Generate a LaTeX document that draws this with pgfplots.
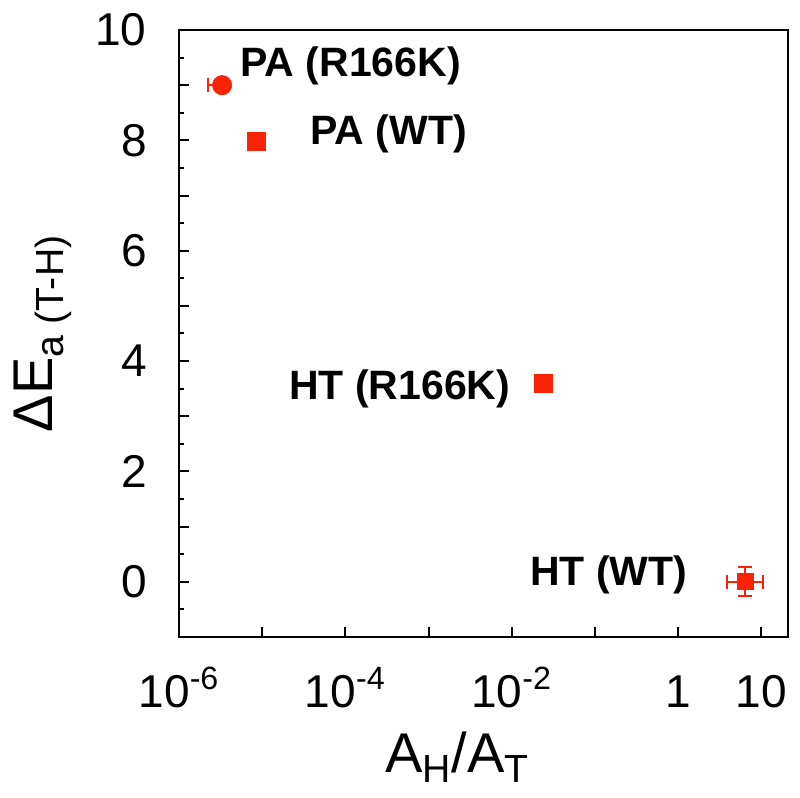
\documentclass[border=0pt]{standalone}
\usepackage{fontspec}
\setmainfont{Liberation Sans}
\usepackage{pgfplots}
\pgfplotsset{compat=1.18}
\definecolor{mred}{RGB}{250,35,5}
\begin{document}
\begin{tikzpicture}
\begin{axis}[name=ax, scale only axis, width=304.5pt, height=303.5pt,
  xmode=log, xmin=1e-6, xmax=21, ymin=-1, ymax=10,
  axis line style={line width=1.2pt},
  xtick={1e-6,1e-5,1e-4,1e-3,1e-2,1e-1,1,10},
  xticklabels={10\textsuperscript{-6},,10\textsuperscript{-4},,10\textsuperscript{-2},,1,10},
  xminorticks=false,
  ytick={-1,0,...,10},
  yticklabels={,0,,2,,4,,6,,8,,10},
  minor ytick={-0.5,0.5,...,9.5},
  tick align=inside, xtick pos=bottom, ytick pos=left,
  major tick length=5pt, minor tick length=2.5pt,
  tick style={line width=1pt, black},
  xticklabel style={anchor=base, yshift=-35.5pt, font=\fontsize{23}{27}\selectfont},
  yticklabel style={anchor=east, inner sep=0pt, xshift=-16pt, font=\fontsize{23}{27}\selectfont},
  xlabel={A\textsubscript{H}/A\textsubscript{T}},
  ylabel={ΔE\textsubscript{a (T-H)}},
  xlabel style={at={(axis description cs:0.457,-0.224)}, anchor=base, font=\fontsize{28}{32}\selectfont},
  ylabel style={at={(axis description cs:-0.2233,0.5)}, anchor=center, font=\fontsize{28}{32}\selectfont},
  clip=false,
]
\addplot[only marks, mark=*, mark size=4.8pt, color=mred,
  error bars/.cd, x dir=both, x explicit,
  error bar style={line width=1pt, mred},
  error mark=|,
  error mark options={mark size=3.5pt, line width=1pt, draw=mred}]
  coordinates {(3.3e-6,9.0) += (0.6e-6,0) -= (1.05e-6,0)};
\addplot[only marks, mark=square*, mark size=4.5pt, color=mred]
  coordinates {(8.47e-6,7.98) (0.0238,3.60)};
\addplot[only marks, mark=square*, mark size=4pt, color=mred,
  error bars/.cd, x dir=both, x explicit,
  error bar style={line width=1pt, mred},
  error mark=|,
  error mark options={mark size=3.5pt, line width=1pt, draw=mred}]
  coordinates {(6.4,0.0) += (4.0,0) -= (2.5,0)};
\addplot[only marks, mark=none, color=mred,
  error bars/.cd, y dir=both, y explicit,
  error bar style={line width=1pt, mred},
  error mark=|,
  error mark options={mark size=3.5pt, line width=1pt, draw=mred}]
  coordinates {(6.4,0.0) +- (0,0.26)};
\node[anchor=west, inner sep=0pt, font=\bfseries\fontsize{20.5}{24}\selectfont] at (axis cs:5.43e-6,9.35) {PA (R166K)};
\node[anchor=west, inner sep=0pt, font=\bfseries\fontsize{20.5}{24}\selectfont] at (axis cs:3.78e-5,8.12) {PA (WT)};
\node[anchor=east, inner sep=0pt, font=\bfseries\fontsize{20.5}{24}\selectfont] at (axis cs:9.7e-3,3.50) {HT (R166K)};
\node[anchor=west, inner sep=0pt, font=\bfseries\fontsize{20.5}{24}\selectfont] at (axis cs:1.65e-2,0.13) {HT (WT)};
\end{axis}
\pgfresetboundingbox
\path[use as bounding box] ([xshift=-89.5pt,yshift=-80.5pt]ax.south west) rectangle ([xshift=6pt,yshift=15pt]ax.north east);
\end{tikzpicture}
\end{document}
